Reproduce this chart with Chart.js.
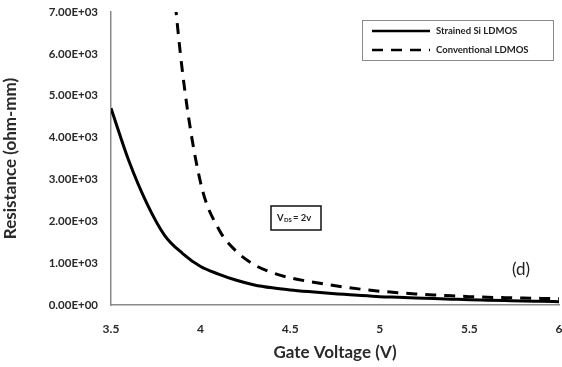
<!DOCTYPE html>
<html>
<head>
<meta charset="utf-8">
<script src="https://cdn.jsdelivr.net/npm/chart.js@4.4.0/dist/chart.umd.min.js"></script>
<style>
  html, body { margin: 0; padding: 0; background: #fff; }
  #wrap { width: 562px; height: 367px; position: relative; }
</style>
</head>
<body>
<div id="wrap"><canvas id="chartR"></canvas></div>
<script>
// Gate voltage (V)
const voltage = [3.5, 3.6, 3.7, 3.8, 3.9, 4.0, 4.1, 4.2, 4.3, 4.4, 4.5, 4.6, 4.7, 4.8, 4.9,
                 5.0, 5.1, 5.2, 5.3, 5.4, 5.5, 5.6, 5.7, 5.8, 5.9, 6.0];
// Resistance (ohm-mm)
const strainedSi = [4700, 3440, 2430, 1660, 1230, 920, 740, 590, 480, 410, 360, 320, 285, 255, 225,
                    200, 185, 170, 155, 140, 125, 115, 105, 95, 88, 80];
const conventional = [null, null, null, 9900, 5530, 2920, 1820, 1280, 960, 770, 650, 565, 495, 430, 375,
                      330, 295, 265, 240, 220, 200, 185, 175, 165, 158, 150];
const seriesNames = ['Strained Si LDMOS', 'Conventional LDMOS'];
const xTicks = [3.5, 4, 4.5, 5, 5.5, 6];
const yTicks = [0, 1000, 2000, 3000, 4000, 5000, 6000, 7000];

const FONT = 'Lato, "Open Sans", sans-serif';

function sci(v) {
    // 7000 -> 7.00E+03
    if (v === 0) return '0.00E+00';
    const exp = Math.floor(Math.log10(Math.abs(v)));
    const mant = v / Math.pow(10, exp);
    const sign = exp < 0 ? '-' : '+';
    return mant.toFixed(2) + 'E' + sign + String(Math.abs(exp)).padStart(2, '0');
}

function toPoints(arr) {
    return voltage.map((x, i) => ({ x: x, y: arr[i] }));
}

// Leyenda con recuadro y etiqueta V_DS dentro del área
const annotations = {
    id: 'annotations',
    afterDraw(chart) {
        const ctx = chart.ctx;
        ctx.save();

        // legend box
        ctx.strokeStyle = '#8a8a8a';
        ctx.lineWidth = 1;
        ctx.strokeRect(362.5, 20.5, 191, 40);
        ctx.font = 'bold 9.5px ' + FONT;
        ctx.textBaseline = 'middle';
        const rows = [31, 50];
        chart.data.datasets.forEach((ds, i) => {
            ctx.strokeStyle = '#000';
            ctx.lineWidth = 2.5;
            ctx.setLineDash(ds.borderDash || []);
            ctx.beginPath();
            ctx.moveTo(372, rows[i]);
            ctx.lineTo(430, rows[i]);
            ctx.stroke();
            ctx.setLineDash([]);
            ctx.fillStyle = '#222';
            ctx.fillText(ds.label, 436, rows[i]);
        });

        // V_DS = 2v box
        ctx.strokeStyle = '#111';
        ctx.lineWidth = 1.5;
        ctx.strokeRect(271, 206, 50, 24);
        ctx.fillStyle = '#222';
        ctx.font = 'bold 9.5px ' + FONT;
        ctx.fillText('V', 277, 218);
        ctx.font = 'bold 6px ' + FONT;
        ctx.fillText('DS', 284, 220);
        ctx.font = 'bold 9.5px ' + FONT;
        ctx.fillText('= 2v', 293, 218);

        // (d)
        ctx.font = '17px ' + FONT;
        ctx.fillStyle = '#222';
        ctx.fillText('(d)', 512, 270);
        ctx.restore();
    }
};

new Chart(document.getElementById('chartR'), {
    type: 'line',
    data: {
        datasets: [{
            label: seriesNames[0],
            data: toPoints(strainedSi),
            borderColor: '#000',
            borderWidth: 3,
            pointRadius: 0,
            cubicInterpolationMode: 'monotone',
            fill: false
        }, {
            label: seriesNames[1],
            data: toPoints(conventional),
            borderColor: '#000',
            borderWidth: 3,
            borderDash: [11, 8],
            pointRadius: 0,
            cubicInterpolationMode: 'monotone',
            fill: false
        }]
    },
    options: {
        responsive: true,
        maintainAspectRatio: false,
        animation: false,
        layout: { padding: { top: 12, right: 3, left: 0, bottom: 0 } },
        plugins: {
            legend: { display: false },
            tooltip: { enabled: false }
        },
        scales: {
            x: {
                type: 'linear',
                min: 3.5,
                max: 6,
                afterBuildTicks(scale) { scale.ticks = xTicks.map(v => ({ value: v })); },
                grid: { display: false, drawTicks: true, tickLength: 5, color: '#8a8a8a' },
                border: { color: '#8a8a8a', width: 1.5 },
                ticks: {
                    color: '#2a2a2a',
                    font: { family: FONT, size: 12, weight: 'bold' },
                    padding: 12,
                    maxRotation: 0,
                    callback: v => String(v)
                },
                title: {
                    display: true,
                    text: 'Gate Voltage (V)',
                    color: '#2a2a2a',
                    font: { family: FONT, size: 17, weight: 'bold' },
                    padding: { top: 0, bottom: 4 }
                },
                afterFit(scale) {
                    scale.height = 62;
                    scale.paddingLeft = 0;
                    scale.paddingRight = 0;
                }
            },
            y: {
                min: 0,
                max: 7000,
                afterBuildTicks(scale) { scale.ticks = yTicks.map(v => ({ value: v })); },
                grid: { display: false, drawTicks: true, tickLength: 5, color: '#8a8a8a' },
                border: { color: '#8a8a8a', width: 1.5 },
                ticks: {
                    color: '#2a2a2a',
                    font: { family: FONT, size: 11.5, weight: 'bold' },
                    padding: 8,
                    callback: v => sci(v)
                },
                title: {
                    display: true,
                    text: 'Resistance (ohm-mm)',
                    color: '#2a2a2a',
                    font: { family: FONT, size: 17, weight: 'bold' },
                    padding: { top: 0, bottom: 4 }
                },
                afterFit(scale) {
                    scale.width = 111;
                    scale.paddingTop = 0;
                    scale.paddingBottom = 0;
                }
            }
        }
    },
    plugins: [annotations]
});
</script>
</body>
</html>
